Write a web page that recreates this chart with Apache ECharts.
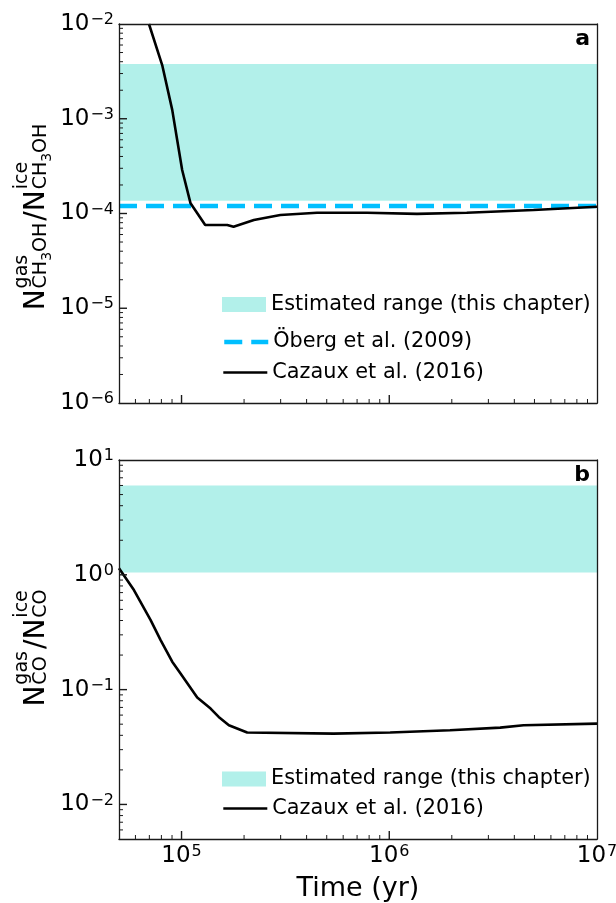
<!DOCTYPE html>
<html>
<head>
<meta charset="utf-8">
<script src="https://cdn.jsdelivr.net/npm/echarts@6/dist/echarts.min.js"></script>
<style>
  html, body { margin: 0; padding: 0; background: #fff; }
  #chart { width: 616px; height: 903px; }
</style>
</head>
<body>
<div id="chart"></div>
<script>
// ---- Data -------------------------------------------------------------
// Panel a: gas/ice ratio of methanol versus time (yr)
const methanolTime  = [6.97e4, 8.07e4, 9.02e4, 9.53e4, 1.007e5, 1.105e5, 1.30e5, 1.66e5, 1.78e5,
                       2.23e5, 2.99e5, 4.49e5, 7.81e5, 1.36e6, 2.36e6, 4.95e6, 1.0e7];
const methanolRatio = [1.0e-2, 3.69e-3, 1.24e-3, 5.97e-4, 2.88e-4, 1.28e-4, 7.57e-5, 7.57e-5, 7.26e-5,
                       8.53e-5, 9.64e-5, 1.02e-4, 1.02e-4, 9.9e-5, 1.02e-4, 1.09e-4, 1.18e-4];
const methanolRange = [1.36e-4, 3.78e-3];   // estimated range (low, high)
const obergRatio    = 1.2e-4;                // Öberg et al. (2009)

// Panel b: gas/ice ratio of CO versus time (yr)
const coTime  = [5.0e4, 5.9e4, 7.1e4, 7.93e4, 9.02e4, 9.89e4, 1.19e5, 1.38e5, 1.51e5, 1.69e5,
                 2.07e5, 5.4e5, 1.01e6, 1.96e6, 3.42e6, 4.43e6, 1.0e7];
const coRatio = [1.14, 0.736, 0.403, 0.27, 0.175, 0.138, 0.0853, 0.0684, 0.0578, 0.049,
                 0.0423, 0.0414, 0.0423, 0.0443, 0.0467, 0.049, 0.0506];
const coRange = [1.05, 6.0];

// Axis extents and decade tick exponents
const timeExtent     = [5e4, 1e7];
const methanolExtent = [1e-6, 1e-2];
const coExtent       = [5e-3, 1e1];
const timeTickExps     = [5, 6, 7];
const methanolTickExps = [-6, -5, -4, -3, -2];
const coTickExps       = [-2, -1, 0, 1];

// Legend labels
const bandName    = 'Estimated range (this chapter)';
const obergName   = 'Öberg et al. (2009)';
const cazauxName  = 'Cazaux et al. (2016)';
const timeTitle   = 'Time (yr)';

// ---- Helpers ----------------------------------------------------------
const lg = Math.log10;
const FONT = '"DejaVu Sans"';
const TEAL = '#b2f0ea';
const FRAME = '#1a1a1a';
const OBERG_STYLE  = { color: '#00bfff', width: 4.5, type: [18, 9] };
const CAZAUX_STYLE = { color: '#000', width: 2.6 };

// log10 positions of the 2..9 multiples inside (lo, hi)
function minorTicks(lo, hi) {
  const out = [];
  for (let n = Math.floor(lo); n < Math.ceil(hi); n++) {
    for (let k = 2; k <= 9; k++) {
      const v = n + lg(k);
      if (v > lo + 1e-9 && v < hi - 1e-9) out.push(v);
    }
  }
  return out;
}

function powLabel(v) {
  const e = Math.round(v);
  return '{b|10}{s|' + String(e).replace('-', '\u2212') + '}';
}
const powRich = {
  b: { fontSize: 23, fontFamily: FONT, color: '#000', lineHeight: 24, verticalAlign: 'middle' },
  s: { fontSize: 16, fontFamily: FONT, color: '#000', lineHeight: 16, padding: [0, 0, 22, 1], verticalAlign: 'top' }
};

const gridA = { left: 119, top: 24, width: 478, height: 379, outerBoundsMode: 'none', containLabel: false };
const gridB = { left: 119, top: 460, width: 478, height: 379, outerBoundsMode: 'none', containLabel: false };
const frameLine = { show: true, onZero: false, lineStyle: { color: FRAME, width: 1.3 } };

// Two x axes per grid: bottom (labels + frame) and top (frame only)
function xAxes(gridIndex, withLabels) {
  const lo = lg(timeExtent[0]), hi = lg(timeExtent[1]);
  const base = { type: 'value', gridIndex, min: lo, max: hi, splitLine: { show: false }, axisTick: { show: false }, z: 5 };
  return [
    Object.assign({}, base, {
      position: 'bottom', axisLine: frameLine,
      axisLabel: { show: withLabels, margin: 5, formatter: powLabel, rich: powRich, customValues: timeTickExps },
      name: withLabels ? timeTitle : '',
      nameLocation: 'middle', nameGap: 36, nameMoveOverlap: false,
      nameTextStyle: { fontSize: 27, fontFamily: FONT, color: '#000' }
    }),
    Object.assign({}, base, { position: 'top', axisLine: frameLine, axisLabel: { show: false } })
  ];
}

function yAxes(gridIndex, extent, exps) {
  const lo = lg(extent[0]), hi = lg(extent[1]);
  const base = { type: 'value', gridIndex, min: lo, max: hi, splitLine: { show: false }, axisTick: { show: false }, z: 5 };
  return [
    Object.assign({}, base, {
      position: 'left', axisLine: frameLine,
      axisLabel: { show: true, margin: 5, formatter: powLabel, rich: powRich, customValues: exps }
    }),
    Object.assign({}, base, { position: 'right', axisLine: frameLine, axisLabel: { show: false } })
  ];
}

// Inward tick marks placed through the axis scales
function tickSeries(xIdx, yIdx, dir, values, len, width) {
  const xLo = lg(timeExtent[0]);
  const yLo = yIdx === 0 ? lg(methanolExtent[0]) : lg(coExtent[0]);
  return {
    type: 'custom', xAxisIndex: xIdx, yAxisIndex: yIdx, z: 6, silent: true, clip: false,
    encode: { x: 0, y: 1 },
    data: values.map(v => dir === 'x' ? [v, yLo] : [xLo, v]),
    renderItem(params, api) {
      const p = api.coord([api.value(0), api.value(1)]);
      const q = dir === 'x' ? [p[0], p[1] - len] : [p[0] + len, p[1]];
      return {
        type: 'line',
        shape: { x1: p[0], y1: p[1], x2: q[0], y2: q[1] },
        style: { stroke: FRAME, lineWidth: width }
      };
    }
  };
}

function panelTicks(xIdx, yIdx, extent, exps) {
  const xl = lg(timeExtent[0]), xh = lg(timeExtent[1]);
  const yl = lg(extent[0]), yh = lg(extent[1]);
  return [
    tickSeries(xIdx, yIdx, 'x', timeTickExps.filter(v => v < xh), 8, 1.4),
    tickSeries(xIdx, yIdx, 'x', minorTicks(xl, xh), 4, 1),
    tickSeries(xIdx, yIdx, 'y', exps.filter(v => v > yl && v < yh), 8, 1.4),
    tickSeries(xIdx, yIdx, 'y', minorTicks(yl, yh), 4, 1)
  ];
}

// Horizontal band spanning the full time range
function bandSeries(xIdx, yIdx, range) {
  return {
    type: 'custom', name: bandName, xAxisIndex: xIdx, yAxisIndex: yIdx, z: 1,
    itemStyle: { color: TEAL },
    encode: { x: [0, 1], y: [2, 3] },
    data: [[lg(timeExtent[0]), lg(timeExtent[1]), lg(range[0]), lg(range[1])]],
    renderItem(params, api) {
      const p0 = api.coord([api.value(0), api.value(3)]);
      const p1 = api.coord([api.value(1), api.value(2)]);
      return {
        type: 'rect',
        shape: { x: p0[0], y: p0[1], width: p1[0] - p0[0], height: p1[1] - p0[1] },
        style: { fill: TEAL }
      };
    }
  };
}

function curve(xIdx, yIdx, name, xs, ys, style, z) {
  return {
    type: 'line', name, xAxisIndex: xIdx, yAxisIndex: yIdx, z,
    symbol: 'none', silent: true,
    lineStyle: style, itemStyle: { color: style.color },
    data: xs.map((t, i) => [lg(t), lg(ys[i])])
  };
}

// ---- Rotated y-axis titles with stacked super/subscripts --------------
const mctx = document.createElement('canvas').getContext('2d');
function tw(str, size) { mctx.font = size + 'px ' + FONT; return mctx.measureText(str).width; }

function ratioTitle(subParts, centerY, baseX) {
  const big = 28, sc = 19, tiny = 14;
  const pieces = [];
  let cur = 0;
  function put(text, size, x, base) { pieces.push({ text, size, x, base }); }
  function nGroup(sup) {
    put('N', big, cur, 0);
    const sx = cur + tw('N', big) + 1;
    put(sup, sc, sx, -17);
    let subX = sx;
    subParts.forEach(p => {
      const sz = p.small ? tiny : sc;
      put(p.t, sz, subX, p.small ? 6 : 2);
      subX += tw(p.t, sz);
    });
    cur = Math.max(sx + tw(sup, sc), subX) + 2;
  }
  nGroup('gas');
  put('/', big, cur, 0);
  cur += tw('/', big);
  nGroup('ice');
  const W = cur;
  return {
    type: 'group', x: baseX, y: centerY, rotation: Math.PI / 2,
    children: pieces.map(p => ({
      type: 'text', x: p.x - W / 2, y: p.base - 0.346 * p.size,
      style: { text: p.text, font: p.size + 'px ' + FONT, fill: '#000', align: 'left', verticalAlign: 'middle' }
    }))
  };
}

const methanolSub = [{ t: 'CH' }, { t: '3', small: true }, { t: 'OH' }];
const coSub = [{ t: 'CO' }];

// ---- Legends ------------------------------------------------------------
const legendText = { fontSize: 20.8, fontFamily: FONT, color: '#000' };
function legendItem(n) {
  if (n === bandName) return { name: n, icon: 'rect', itemStyle: { color: TEAL } };
  const st = n === obergName ? OBERG_STYLE : CAZAUX_STYLE;
  return { name: n, itemStyle: { opacity: 0 }, lineStyle: { color: st.color, width: st.width, type: st.type || 'solid', opacity: 1 } };
}
function legendAt(top, names) {
  return {
    orient: 'vertical', left: 222, top, padding: 0, itemGap: 0,
    itemWidth: 44, itemHeight: 15, selectedMode: false,
    textStyle: legendText,
    data: names.map(legendItem)
  };
}

// ---- Chart ------------------------------------------------------------
const chart = echarts.init(document.getElementById('chart'), null, { renderer: 'canvas' });
chart.setOption({
  animation: false,
  backgroundColor: '#fff',
  grid: [gridA, gridB],
  xAxis: [...xAxes(0, false), ...xAxes(1, true)],
  yAxis: [...yAxes(0, methanolExtent, methanolTickExps), ...yAxes(1, coExtent, coTickExps)],
  legend: [
    legendAt(294, [bandName]),
    legendAt(331.5, [obergName]),
    legendAt(362, [cazauxName]),
    legendAt(768.5, [bandName]),
    legendAt(798, [cazauxName])
  ],
  series: [
    bandSeries(0, 0, methanolRange),
    curve(0, 0, obergName, timeExtent, [obergRatio, obergRatio], OBERG_STYLE, 2),
    curve(0, 0, cazauxName, methanolTime, methanolRatio, CAZAUX_STYLE, 3),
    bandSeries(2, 2, coRange),
    curve(2, 2, cazauxName, coTime, coRatio, CAZAUX_STYLE, 3),
    ...panelTicks(0, 0, methanolExtent, methanolTickExps),
    ...panelTicks(2, 2, coExtent, coTickExps)
  ],
  graphic: [
    ratioTitle(methanolSub, 216, 46),
    ratioTitle(coSub, 647, 46),
    { type: 'text', x: 590, y: 39.7, style: { text: 'a', font: 'bold 22px ' + FONT, fill: '#000', align: 'right', verticalAlign: 'middle' } },
    { type: 'text', x: 590, y: 475.1, style: { text: 'b', font: 'bold 22px ' + FONT, fill: '#000', align: 'right', verticalAlign: 'middle' } }
  ]
});
</script>
</body>
</html>
